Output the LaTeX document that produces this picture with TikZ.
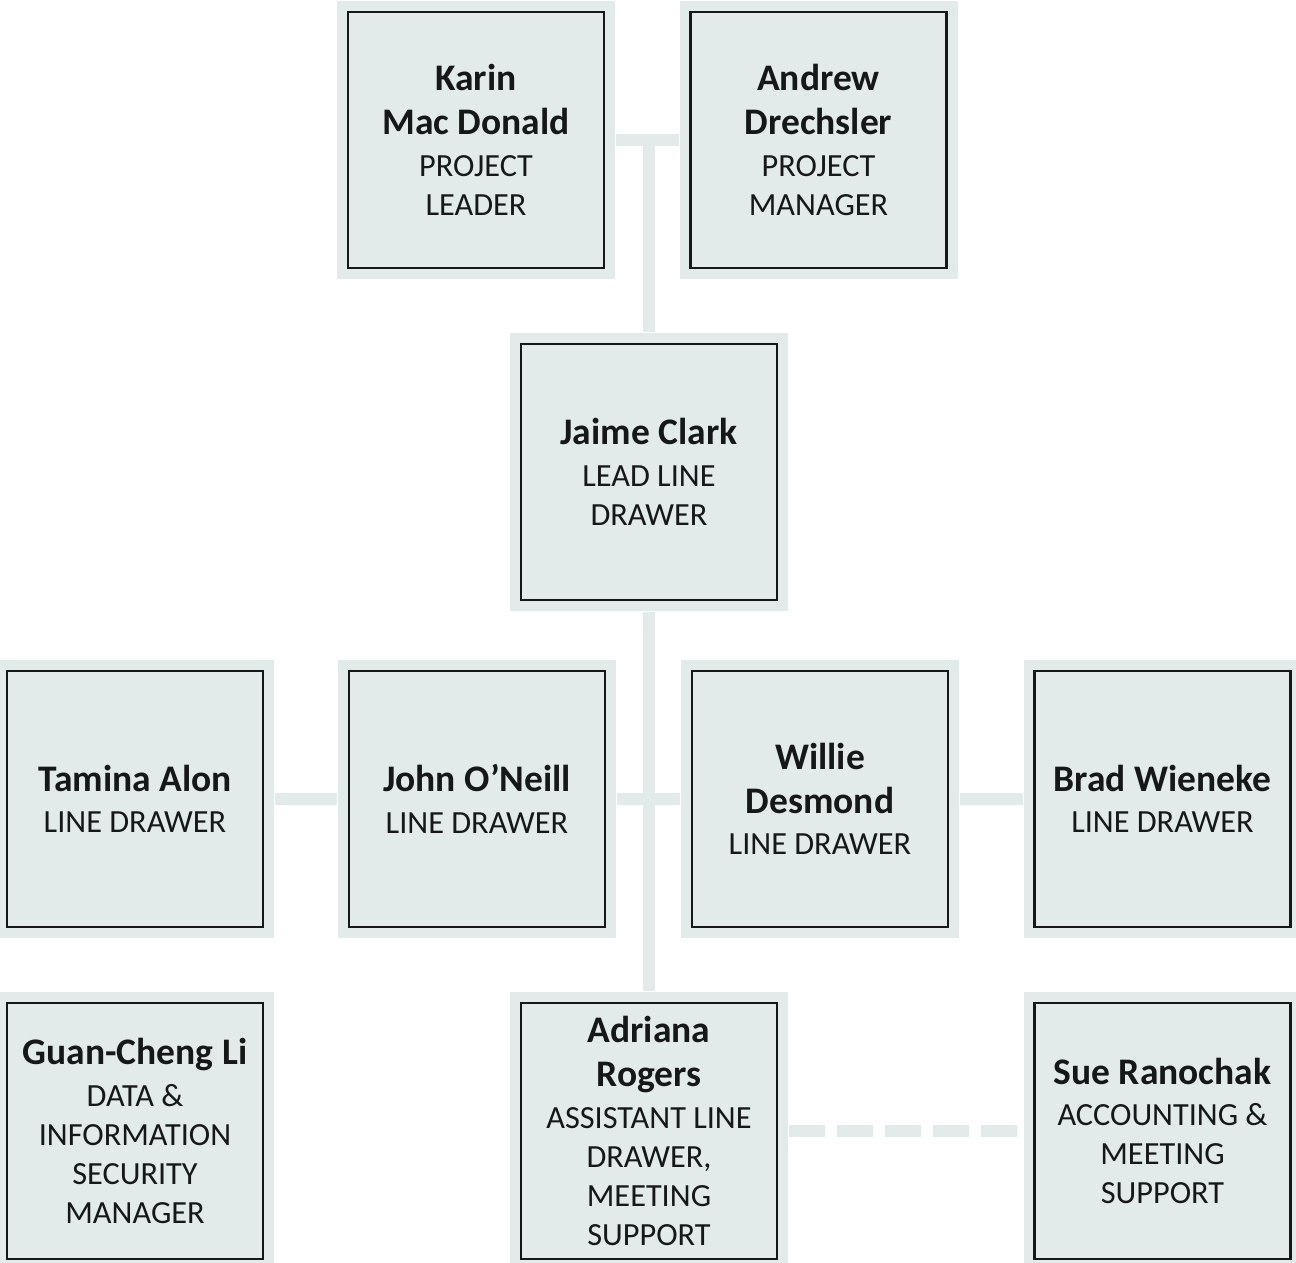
\documentclass[tikz,border=0pt]{standalone}
\usepackage{fontspec}
\setmainfont{Carlito}
\definecolor{boxfill}{RGB}{226,235,234}
\definecolor{boxline}{RGB}{22,24,24}
\newcommand{\who}[1]{{\fontsize{37.5}{44}\selectfont\bfseries\spaceskip=.226em\xspaceskip=.226em #1\par}}
\newcommand{\job}[1]{{\fontsize{32.3}{39}\selectfont\spaceskip=.226em\xspaceskip=.226em \vspace{2.5pt}#1\par}}

\begin{document}
\begin{tikzpicture}[x=1pt,y=-1pt]
\tikzstyle{person}=[draw=boxline,line width=2.5pt,fill=boxfill,
  preaction={draw=boxfill,line width=22pt},
  minimum width=256pt,minimum height=256pt,inner sep=0pt,outer sep=12pt,
  text width=250pt,align=center,text=boxline]
\tikzstyle{link}=[draw=boxfill,line width=12pt]
\tikzstyle{dashlink}=[link,dash pattern=on 36pt off 12pt]
\useasboundingbox (0,0) rectangle (1296,1262);
% top row
    \node [person] (karin) at (476,140) {\who{Karin\\Mac Donald}\job{PROJECT\\LEADER}};
    \node [person] (andrew) at (818.5,140) {\who{Andrew\\Drechsler}\job{PROJECT\\MANAGER}};
    \node [person] (jaime) at (649,472) {\who{Jaime Clark}\job{LEAD LINE\\DRAWER}};
% line drawers
    \node [person] (tamina) at (135,799) {\who{Tamina Alon}\job{LINE DRAWER}};
    \node [person] (john) at (477,799) {\who{John O’Neill}\job{LINE DRAWER}};
    \node [person] (willie) at (820,799) {\who{Willie\\Desmond}\job{LINE DRAWER}};
    \node [person] (brad) at (1162.5,799) {\who{Brad Wieneke}\job{LINE DRAWER}};
% bottom row
    \node [person] (guan) at (135,1131) {\who{Guan-Cheng Li}\job{DATA \&\\INFORMATION\\SECURITY\\MANAGER}};
    \node [person] (adriana) at (649,1131) {\who{Adriana\\Rogers}\job{ASSISTANT LINE\\DRAWER,\\MEETING\\SUPPORT}};
    \node [person] (sue) at (1162.5,1131) {\who{Sue Ranochak}\job{ACCOUNTING \&\\MEETING\\SUPPORT}};
    \draw[link] (karin.east) -- (andrew.west);
    \draw[link] (jaime.north) -- (jaime.north |- karin.east);
    \draw[link] (jaime.south) -- (adriana.north);
    \draw[link] (tamina.east) -- (john.west);
    \draw[link] (john.east) -- (willie.west);
    \draw[link] (willie.east) -- (brad.west);
    \draw[dashlink] (adriana.east) -- (sue.west);
\end{tikzpicture}
\end{document}
